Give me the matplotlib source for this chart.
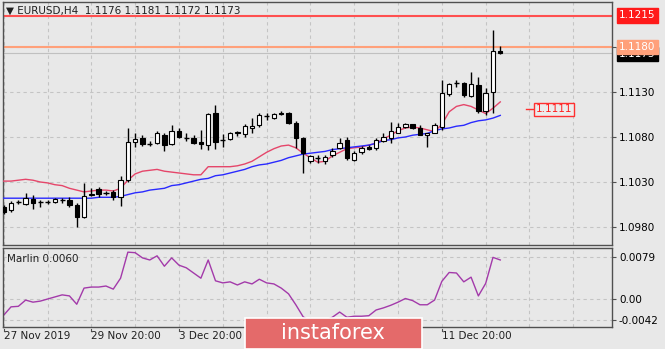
import numpy as np
import matplotlib
matplotlib.use("Agg")
import matplotlib.pyplot as plt

# H4 candles, EURUSD, 27 Nov 2019 20:00 onward
opens = [1.1002, 1.0999, 1.1008, 1.1006, 1.1011, 1.1008, 1.1008, 1.1008, 1.1010, 1.1010,
         1.1004, 1.0991, 1.1016, 1.1022, 1.1018, 1.1019, 1.1013, 1.1032, 1.1074, 1.1079,
         1.1072, 1.1073, 1.1082, 1.1072, 1.1087, 1.1079, 1.1079, 1.1075, 1.1071, 1.1107,
         1.1077, 1.1078, 1.1085, 1.1083, 1.1090, 1.1093, 1.1103, 1.1101, 1.1107, 1.1107,
         1.1096, 1.1079, 1.1053, 1.1057, 1.1053, 1.1060, 1.1068, 1.1077, 1.1054, 1.1063,
         1.1069, 1.1068, 1.1076, 1.1079, 1.1085, 1.1091, 1.1094, 1.1090, 1.1082, 1.1085,
         1.1091, 1.1128, 1.1140, 1.1140, 1.1126, 1.1138, 1.1109, 1.1130, 1.1176]
highs = [1.1004, 1.1009, 1.1010, 1.1018, 1.1016, 1.1010, 1.1010, 1.1012, 1.1012, 1.1013,
         1.1007, 1.1029, 1.1023, 1.1025, 1.1020, 1.1021, 1.1037, 1.1090, 1.1084, 1.1082,
         1.1076, 1.1087, 1.1085, 1.1093, 1.1090, 1.1084, 1.1082, 1.1088, 1.1107, 1.1116,
         1.1083, 1.1086, 1.1087, 1.1095, 1.1101, 1.1107, 1.1107, 1.1107, 1.1109, 1.1108,
         1.1098, 1.1080, 1.1060, 1.1060, 1.1060, 1.1068, 1.1079, 1.1080, 1.1064, 1.1070,
         1.1071, 1.1079, 1.1084, 1.1097, 1.1096, 1.1096, 1.1095, 1.1093, 1.1085, 1.1096,
         1.1143, 1.1140, 1.1143, 1.1141, 1.1152, 1.1147, 1.1134, 1.1199, 1.1181]
lows = [1.0995, 1.0997, 1.1006, 1.1005, 1.1000, 1.1002, 1.1006, 1.1007, 1.1007, 1.1002,
        1.0980, 1.0990, 1.1014, 1.1013, 1.1016, 1.1010, 1.1003, 1.1030, 1.1069, 1.1070,
        1.1070, 1.1072, 1.1064, 1.1071, 1.1079, 1.1076, 1.1072, 1.1067, 1.1066, 1.1067,
        1.1069, 1.1077, 1.1081, 1.1080, 1.1084, 1.1091, 1.1099, 1.1100, 1.1105, 1.1095,
        1.1068, 1.1040, 1.1051, 1.1051, 1.1050, 1.1058, 1.1067, 1.1055, 1.1053, 1.1061,
        1.1066, 1.1066, 1.1075, 1.1073, 1.1085, 1.1090, 1.1089, 1.1082, 1.1069, 1.1084,
        1.1088, 1.1126, 1.1136, 1.1124, 1.1125, 1.1107, 1.1104, 1.1107, 1.1172]
closes = [1.0997, 1.1007, 1.1008, 1.1012, 1.1007, 1.1008, 1.1008, 1.1011, 1.1010, 1.1004,
          1.0991, 1.1015, 1.1017, 1.1017, 1.1018, 1.1013, 1.1032, 1.1074, 1.1078, 1.1072,
          1.1072, 1.1084, 1.1071, 1.1087, 1.1080, 1.1079, 1.1073, 1.1072, 1.1106, 1.1075,
          1.1077, 1.1084, 1.1084, 1.1092, 1.1092, 1.1104, 1.1103, 1.1106, 1.1106, 1.1096,
          1.1079, 1.1062, 1.1059, 1.1057, 1.1058, 1.1065, 1.1073, 1.1057, 1.1062, 1.1068,
          1.1067, 1.1077, 1.1080, 1.1087, 1.1091, 1.1094, 1.1090, 1.1082, 1.1084, 1.1093,
          1.1129, 1.1139, 1.1140, 1.1127, 1.1139, 1.1109, 1.1129, 1.1176, 1.1173]

ma_fast = [1.1031, 1.1031, 1.1032, 1.1033, 1.1032, 1.1030, 1.1029, 1.1027, 1.1026, 1.1023,
           1.1021, 1.1019, 1.1020, 1.1021, 1.1021, 1.1020, 1.1023, 1.1032, 1.1039, 1.1042,
           1.1043, 1.1044, 1.1042, 1.1041, 1.1040, 1.1039, 1.1038, 1.1038, 1.1047, 1.1047,
           1.1047, 1.1047, 1.1048, 1.1050, 1.1053, 1.1058, 1.1063, 1.1067, 1.1070, 1.1071,
           1.1068, 1.1062, 1.1057, 1.1052, 1.1053, 1.1059, 1.1063, 1.1067, 1.1068, 1.1069,
           1.1071, 1.1073, 1.1078, 1.1082, 1.1087, 1.1090, 1.1091, 1.1090, 1.1088, 1.1086,
           1.1094, 1.1108, 1.1114, 1.1116, 1.1114, 1.1110, 1.1106, 1.1112, 1.1119]
ma_slow = [1.1012, 1.1012, 1.1012, 1.1012, 1.1012, 1.1012, 1.1012, 1.1012, 1.1012, 1.1012,
           1.1012, 1.1012, 1.1012, 1.1013, 1.1013, 1.1013, 1.1014, 1.1016, 1.1018, 1.1019,
           1.1021, 1.1022, 1.1023, 1.1026, 1.1027, 1.1029, 1.1031, 1.1033, 1.1034, 1.1037,
           1.1038, 1.1040, 1.1042, 1.1044, 1.1047, 1.1049, 1.1050, 1.1052, 1.1054, 1.1057,
           1.1059, 1.1061, 1.1062, 1.1063, 1.1064, 1.1066, 1.1067, 1.1068, 1.1069, 1.1070,
           1.1071, 1.1073, 1.1076, 1.1077, 1.1079, 1.1080, 1.1082, 1.1083, 1.1084, 1.1087,
           1.1089, 1.1090, 1.1092, 1.1093, 1.1096, 1.1098, 1.1099, 1.1101, 1.1104]

marlin = [-0.0032, -0.0016, -0.0015, -0.0003, -0.0007, -0.0005, -0.0001, 0.0003, 0.0007, 0.0005,
          -0.0011, 0.0020, 0.0022, 0.0022, 0.0024, 0.0018, 0.0039, 0.0089, 0.0088, 0.0078,
          0.0074, 0.0082, 0.0062, 0.0078, 0.0064, 0.0059, 0.0049, 0.0039, 0.0074, 0.0034,
          0.0030, 0.0032, 0.0026, 0.0032, 0.0028, 0.0037, 0.0030, 0.0028, 0.0020, 0.0009,
          -0.0012, -0.0035, -0.0044, -0.0048, -0.0042, -0.0036, -0.0026, -0.0036, -0.0034, -0.0034,
          -0.0033, -0.0022, -0.0018, -0.0013, -0.0007, 0.0000, -0.0004, -0.0012, -0.0012, -0.0003,
          0.0033, 0.0050, 0.0049, 0.0032, 0.0041, 0.0005, 0.0029, 0.0079, 0.0074]

# labels at 36 and 48 sit under the watermark, only their ticks show
date_pos = [0, 12, 24, 36, 48, 60]
date_labels = ["27 Nov 2019", "29 Nov 20:00", "3 Dec 20:00", "", "", "11 Dec 20:00"]
price_ticks = [1.0980, 1.1030, 1.1080, 1.1130]
marlin_ticks = [0.0079, 0.0, -0.0042]
marlin_labels = ["0.0079", "0.00", "-0.0042"]
resistance = 1.1215
level = 1.1180
last_bid = 1.1173
target = 1.1111

W, H = 665, 349
BG = "#e8e8e8"
GRID = "#c4c4c4"
FS = 7.5

fig = plt.figure(figsize=(W / 100, H / 100), dpi=100, facecolor=BG)

def px_axes(x0, y0, x1, y1):
    return fig.add_axes([x0 / W, 1 - y1 / H, (x1 - x0) / W, (y1 - y0) / H])

ax = px_axes(3, 2, 612, 245)
ax2 = px_axes(3, 248, 612, 327)

n = len(opens)
x = np.arange(n)
o = np.array(opens); h = np.array(highs); l = np.array(lows); c = np.array(closes)

for a in (ax, ax2):
    a.set_facecolor(BG)
    a.set_xlim(-0.1, 83.3)
    for s in a.spines.values():
        s.set_color("#505050")
        s.set_linewidth(1)
    a.set_xticks(np.arange(0, 84, 6))
    a.tick_params(axis="x", length=0, labelbottom=False)
    a.grid(True, color=GRID, linestyle=(0, (3, 3)), linewidth=0.8)
    a.set_axisbelow(True)
    a.yaxis.tick_right()
    a.tick_params(axis="y", length=3, width=0.8, color="#505050", labelsize=FS, pad=2)

# main price panel
ax.set_ylim(1.0960, 1.1230)
ax.set_yticks(price_ticks + [level])
ax.set_yticklabels(["%.4f" % v for v in price_ticks] + [""])

ax.axhline(last_bid, color="#c0c0c0", lw=0.8, zorder=1)
ax.axhline(level, color="#ffa07a", lw=1.5, zorder=2)
ax.axhline(resistance, color="#ff5050", lw=1.5, zorder=2)

ax.plot(x, ma_fast, color="#e5466a", lw=1.0, zorder=3)
ax.plot(x, ma_slow, color="#2a2aff", lw=1.0, zorder=3)

ax.vlines(x, l, h, color="black", lw=1, zorder=4)
up = c > o
dn = c < o
eq = c == o
ax.bar(x[up], (c - o)[up], bottom=o[up], width=0.6, color="white", edgecolor="black", lw=0.8, zorder=5)
ax.bar(x[dn], (o - c)[dn], bottom=c[dn], width=0.6, color="black", edgecolor="black", lw=0.8, zorder=5)
ax.hlines(c[eq], x[eq] - 0.35, x[eq] + 0.35, color="black", lw=1, zorder=5)

ax.text(0.005, 0.985, "\u25bc EURUSD,H4  1.1176 1.1181 1.1172 1.1173", transform=ax.transAxes,
        fontsize=FS, va="top", ha="left", color="#202020")

# target marker
ax.plot([71.5, 72.6], [target, target], color="#ff3030", lw=1, clip_on=False)
ax.text(72.9, target, "1.1111", fontsize=FS, color="#ff2020", va="center", ha="left",
        bbox=dict(boxstyle="square,pad=0.15", fc="#ececec", ec="#ff3030", lw=1))

# right-side price boxes (bid box sits partly under the 1.1180 one)
ytr = ax.get_yaxis_transform()
ax.text(1.012, last_bid - 0.0001, "1.1173", transform=ytr, fontsize=FS, color="white", va="center", ha="left",
        bbox=dict(boxstyle="square,pad=0.2", fc="black", ec="black"), clip_on=False)
ax.text(1.012, level, "1.1180", transform=ytr, fontsize=FS, color="white", va="center", ha="left",
        bbox=dict(boxstyle="square,pad=0.2", fc="#ffa07a", ec="#ffa07a"), clip_on=False)
ax.text(1.012, resistance, "1.1215", transform=ytr, fontsize=FS, color="white", va="center", ha="left",
        bbox=dict(boxstyle="square,pad=0.2", fc="#ff1a1a", ec="#ff1a1a"), clip_on=False)

# Marlin panel
ax2.set_ylim(-0.00547, 0.0097)
ax2.set_yticks(marlin_ticks)
ax2.set_yticklabels(marlin_labels)
ax2.plot(x, marlin, color="#a33aaa", lw=1.0)
ax2.text(0.006, 0.93, "Marlin 0.0060", transform=ax2.transAxes, fontsize=FS, va="top", ha="left", color="#202020")

for p, lab in zip(date_pos, date_labels):
    ax2.plot([p, p], [-0.0058, -0.0063], color="#505050", lw=0.8, clip_on=False)
    if lab:
        ax2.text(p, -0.0063, lab, fontsize=FS, ha="left", va="top", color="#202020", clip_on=False)

# watermark
fig.patches.append(plt.Rectangle((245 / W, 0), 177 / W, 31 / H, transform=fig.transFigure,
                                 fc="#e46a6a", ec="white", lw=1.2, zorder=10))
fig.text(333 / W, 16 / H, "instaforex", fontsize=15, color="white", ha="center", va="center", zorder=11)

fig.savefig("out.png", dpi=100, facecolor=BG)
